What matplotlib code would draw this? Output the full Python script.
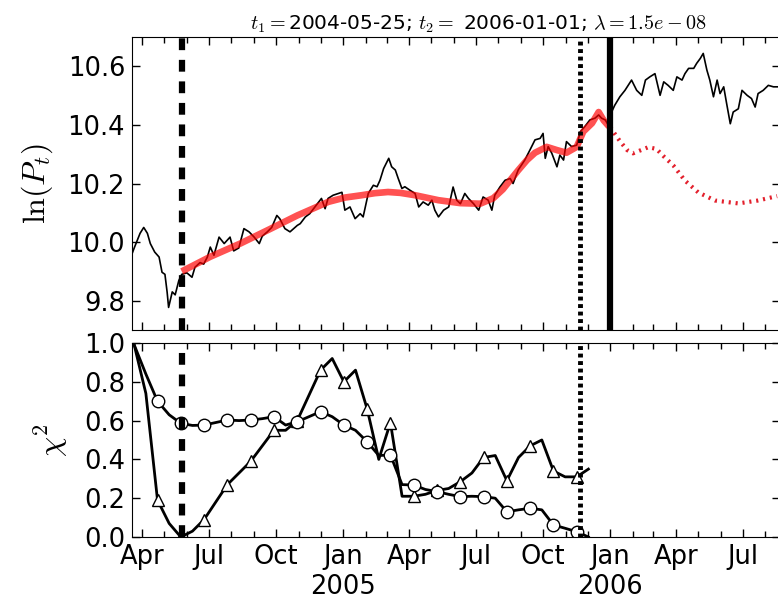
import pandas as pd
import matplotlib
matplotlib.use('Agg')
import matplotlib.pyplot as plt
import matplotlib.dates as mdates
import matplotlib.ticker as ticker

plt.rcParams['font.family'] = 'DejaVu Sans'
plt.rcParams['mathtext.fontset'] = 'cm'
plt.rcParams['lines.scale_dashes'] = False

start = pd.Timestamp('2004-03-18')
t1 = pd.Timestamp('2004-05-25')
t2 = pd.Timestamp('2006-01-01')
t_last = pd.Timestamp('2005-11-21')   # last window end used for chi2
x_max = pd.Timestamp('2006-08-21')

# log price, days counted from start
price_day = [0, 3, 11, 16, 21, 25, 31, 37, 41, 45, 48, 50, 55, 59, 64, 68, 75, 82, 86, 93,
             98, 103, 107, 112, 119, 126, 130, 134, 139, 146, 153, 160, 167, 174, 178, 185,
             191, 198, 202, 209, 216, 226, 230, 237, 243, 250, 259, 264, 268, 275, 282, 287,
             291, 298, 305, 312, 316, 323, 330, 335, 339, 344, 351, 355, 360, 364, 369, 373,
             380, 387, 392, 398, 405, 410, 414, 419, 426, 433, 439, 444, 449, 455, 460, 467,
             474, 480, 487, 492, 496, 503, 510, 517, 521, 528, 537, 544, 551, 558, 562, 565,
             569, 574, 581, 585, 590, 594, 601, 608, 613, 619, 626, 633, 638, 642, 647, 651,
             655, 660, 667, 674, 683, 690, 697, 702, 708, 715, 722, 727, 733, 740, 745, 752,
             756, 761, 768, 772, 777, 781, 786, 790, 795, 800, 804, 809, 813, 818, 822, 829,
             834, 841, 847, 852, 856, 863, 870, 877, 884]
price_log = [9.960, 9.980, 10.030, 10.050, 10.030, 9.995, 9.966, 9.949, 9.897, 9.890, 9.829,
             9.777, 9.830, 9.820, 9.869, 9.890, 9.895, 9.880, 9.914, 9.930, 9.925, 9.949, 9.983,
             9.955, 10.017, 9.995, 10.006, 10.017, 9.970, 9.980, 10.046, 10.035, 10.017, 9.995,
             10.020, 10.035, 10.050, 10.091, 10.080, 10.046, 10.035, 10.057, 10.063, 10.086,
             10.097, 10.120, 10.149, 10.114, 10.149, 10.160, 10.166, 10.170, 10.109, 10.120,
             10.080, 10.097, 10.086, 10.166, 10.194, 10.189, 10.211, 10.251, 10.286, 10.257,
             10.246, 10.217, 10.183, 10.189, 10.177, 10.166, 10.120, 10.137, 10.126, 10.143,
             10.109, 10.086, 10.109, 10.120, 10.188, 10.143, 10.131, 10.166, 10.149, 10.131,
             10.109, 10.154, 10.143, 10.109, 10.160, 10.188, 10.211, 10.217, 10.200, 10.246,
             10.280, 10.314, 10.349, 10.354, 10.371, 10.286, 10.326, 10.303, 10.257, 10.297,
             10.280, 10.343, 10.326, 10.331, 10.377, 10.394, 10.417, 10.423, 10.434, 10.423,
             10.417, 10.400, 10.440, 10.467, 10.496, 10.518, 10.553, 10.518, 10.501, 10.553,
             10.564, 10.575, 10.501, 10.547, 10.535, 10.518, 10.564, 10.553, 10.575, 10.593,
             10.593, 10.610, 10.627, 10.644, 10.587, 10.553, 10.496, 10.553, 10.507, 10.530,
             10.473, 10.404, 10.444, 10.455, 10.518, 10.501, 10.490, 10.461, 10.507, 10.518,
             10.535, 10.530, 10.530]

# fitted curve between t1 and t2
fit_day = [68, 107, 148, 189, 226, 268, 291, 314, 332, 350, 367, 387, 419, 449, 476, 494,
           507, 517, 528, 540, 551, 567, 581, 594, 608, 617, 629, 638, 645, 651, 654]
fit_log = [9.900, 9.950, 9.995, 10.045, 10.091, 10.137, 10.152, 10.160, 10.167, 10.171,
           10.168, 10.160, 10.143, 10.133, 10.131, 10.150, 10.180, 10.211, 10.245, 10.280,
           10.305, 10.325, 10.314, 10.305, 10.325, 10.377, 10.406, 10.444, 10.415, 10.398,
           10.392]

# extrapolation after t2
pred_day = [654, 658, 667, 677, 685, 695, 706, 717, 728, 740, 756, 774, 797, 829, 856, 882]
pred_log = [10.392, 10.377, 10.345, 10.314, 10.303, 10.313, 10.324, 10.318, 10.290, 10.262,
            10.210, 10.170, 10.142, 10.132, 10.142, 10.157]

# normalised chi2 of the two estimators vs. window start
chi2_dates = pd.date_range('2004-03-21', '2005-12-02', periods=40)
chi2_tri = [0.99, 0.74, 0.19, 0.07, 0.00, 0.03, 0.09, 0.18, 0.27, 0.33,
            0.39, 0.47, 0.55, 0.55, 0.60, 0.73, 0.86, 0.92, 0.80, 0.86,
            0.66, 0.40, 0.59, 0.21, 0.21, 0.22, 0.24, 0.25, 0.285, 0.33,
            0.41, 0.42, 0.29, 0.41, 0.47, 0.50, 0.34, 0.31, 0.31, 0.35]
chi2_circ = [0.99, 0.84, 0.70, 0.63, 0.586, 0.575, 0.577, 0.59, 0.603, 0.60,
             0.603, 0.61, 0.62, 0.577, 0.594, 0.62, 0.646, 0.62, 0.577, 0.55,
             0.491, 0.42, 0.423, 0.27, 0.268, 0.245, 0.234, 0.22, 0.208, 0.21,
             0.208, 0.20, 0.13, 0.14, 0.148, 0.14, 0.062, 0.045, 0.027, 0.0]

price_dates = start + pd.to_timedelta(price_day, unit='D')
fit_dates = start + pd.to_timedelta(fit_day, unit='D')
pred_dates = start + pd.to_timedelta(pred_day, unit='D')

fig = plt.figure(figsize=(7.78, 5.99), dpi=100)
ax1 = fig.add_axes([0.1697, 0.4491, 0.8329, 0.4891])
ax2 = fig.add_axes([0.1697, 0.1035, 0.8329, 0.3239], sharex=ax1)

ax1.plot(price_dates, price_log, color='k', lw=1.2)
ax1.plot(fit_dates, fit_log, color='red', lw=4.8, alpha=0.68, solid_capstyle='butt')
ax1.plot(pred_dates, pred_log, color='#e3202c', lw=3, dashes=(1.5, 3.5))
ax1.axvline(t1, color='k', lw=4.5, dashes=(8.5, 7))
ax1.axvline(t_last, color='k', lw=3.5, dashes=(2.8, 2.6))
ax1.axvline(t2, color='k', lw=4.5)

ax2.plot(chi2_dates, chi2_tri, color='k', lw=2, marker='^', ms=9, mfc='white',
         mec='k', mew=1, markevery=(2, 2))
ax2.plot(chi2_dates, chi2_circ, color='k', lw=2, marker='o', ms=9, mfc='white',
         mec='k', mew=1, markevery=(2, 2))
ax2.axvline(t1, color='k', lw=4.5, dashes=(8.5, 7))
ax2.axvline(t_last, color='k', lw=3.5, dashes=(2.8, 2.6))

ax1.set_xlim(start, x_max)
ax1.set_ylim(9.7, 10.7)
ax2.set_ylim(0.0, 1.0)
ax1.yaxis.set_major_locator(ticker.MultipleLocator(0.2))
ax2.yaxis.set_major_locator(ticker.MultipleLocator(0.2))
ax1.yaxis.set_major_formatter(ticker.FormatStrFormatter('%.1f'))
ax2.yaxis.set_major_formatter(ticker.FormatStrFormatter('%.1f'))


def month_label(x, pos):
    d = mdates.num2date(x)
    if d.month == 1:
        return d.strftime('%b\n%Y')
    return d.strftime('%b')


ax2.xaxis.set_major_locator(mdates.MonthLocator(bymonth=[1, 4, 7, 10]))
ax2.xaxis.set_minor_locator(mdates.MonthLocator())
ax2.xaxis.set_major_formatter(ticker.FuncFormatter(month_label))
plt.setp(ax1.get_xticklabels(), visible=False)

for ax in (ax1, ax2):
    ax.tick_params(which='both', direction='in', top=True, right=True, labelsize=18.5, pad=5)
    ax.tick_params(which='major', length=6, width=1)
    ax.tick_params(which='minor', length=4, width=1)

ax1.set_ylabel(r'$\ln(P_t)$', fontsize=23)
ax2.set_ylabel(r'$\chi^2$', fontsize=23)
ax1.yaxis.set_label_coords(-0.119, 0.5)
ax2.yaxis.set_label_coords(-0.096, 0.5)

ax1.set_title(r'$t_1 = $2004-05-25; $t_2 = $ 2006-01-01; $\lambda = 1.5e-08$',
              fontsize=14.5, pad=5, x=0.534)

fig.savefig('out.png', dpi=100)
